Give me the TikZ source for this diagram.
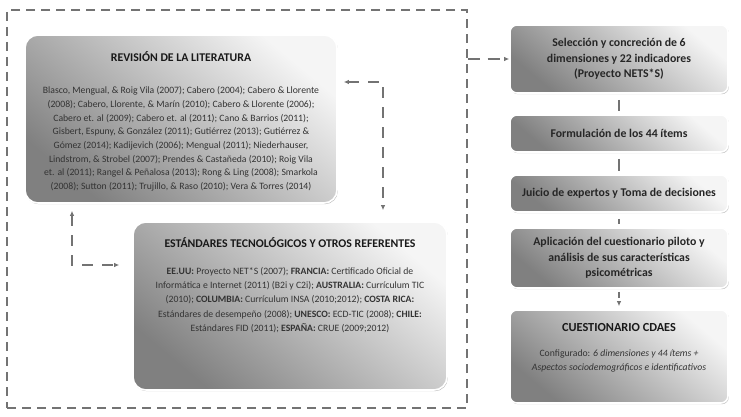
\documentclass[tikz,border=0pt]{standalone}
\usepackage{fontspec}
\setmainfont{Carlito}
\usetikzlibrary{arrows.meta,shadows}

\begin{document}
\begin{tikzpicture}[x=1pt, y=-1pt,
  >={Latex[length=5pt,width=4.5pt]},
  panel/.style={draw=white, line width=1.6pt, rounded corners=13pt,
    top color=black!4, bottom color=black!50, shading angle=-40,
    drop shadow={shadow xshift=0.8pt, shadow yshift=-1.2pt, fill=black!45, opacity=0.55}},
  stepbox/.style={panel, rounded corners=7pt, minimum width=218pt,
    align=center, text=black!85, font=\fontsize{11.8}{15.5}\selectfont\bfseries},
  headtext/.style={align=center, text=black!90, font=\fontsize{11.8}{13}\selectfont\bfseries},
  bodytext/.style={align=center, text=black!80, font=\fontsize{9.7}{13.7}\selectfont},
  dashframe/.style={draw=black!55, line width=1.4pt, dash pattern=on 9pt off 6pt},
  linkarrow/.style={draw=black!55, line width=1.5pt, dash pattern=on 11pt off 9pt},
  stepline/.style={draw=black!55, line width=1.4pt}
]
\useasboundingbox (0,0) rectangle (741,417);
\node[dashframe, minimum width=460pt, minimum height=398pt] (frame) at (237,209) {};
\node[panel, minimum width=312pt, minimum height=168pt] (rev) at (181,119) {};
\node[panel, minimum width=314pt, minimum height=168pt] (est) at (290,306) {};
\node[headtext] (revtitle) at (181,57) {REVISIÓN DE LA LITERATURA};
\node[bodytext] (revrefs) at (181,139) {Blasco, Mengual, \& Roig Vila (2007); Cabero (2004); Cabero \& Llorente\\
(2008); Cabero, Llorente, \& Marín (2010); Cabero \& Llorente (2006);\\
Cabero et. al (2009); Cabero et. al (2011); Cano \& Barrios (2011);\\
Gisbert, Espuny, \& González (2011); Gutiérrez (2013); Gutiérrez \&\\
Gómez (2014); Kadijevich (2006); Mengual (2011); Niederhauser,\\
Lindstrom, \& Strobel (2007); Prendes \& Castañeda (2010); Roig Vila\\
et. al (2011); Rangel \& Peñalosa (2013); Rong \& Ling (2008); Smarkola\\
(2008); Sutton (2011); Trujillo, \& Raso (2010); Vera \& Torres (2014)};
\node[headtext] (esttitle) at (290,243) {ESTÁNDARES TECNOLÓGICOS Y OTROS REFERENTES};
\node[bodytext, font=\fontsize{9.7}{14.3}\selectfont] (estrefs) at (290,300) {\textbf{EE.UU:} Proyecto NET*S (2007); \textbf{FRANCIA:} Certificado Oficial de\\
Informática e Internet (2011) (B2i y C2i); \textbf{AUSTRALIA:} Currículum TIC\\
(2010); \textbf{COLUMBIA:} Currículum INSA (2010;2012); \textbf{COSTA RICA:}\\
Estándares de desempeño (2008); \textbf{UNESCO:} ECD-TIC (2008); \textbf{CHILE:}\\
Estándares FID (2011); \textbf{ESPAÑA:} CRUE (2009;2012)};
\node[stepbox, minimum height=68pt] (sel) at (619,59) {Selección y concreción de 6\\dimensiones y 22 indicadores\\(Proyecto NETS*S)};
\node[stepbox, minimum height=37pt] (form) at (619,133.5) {Formulación de los 44 ítems};
\node[stepbox, minimum height=37pt] (juicio) at (619,193.5) {Juicio de expertos y Toma de decisiones};
\node[stepbox, minimum height=60pt] (aplic) at (619,258) {Aplicación del cuestionario piloto y\\análisis de sus características\\psicométricas};
\node[stepbox, minimum height=93pt] (cuest) at (619,356.5) {};
\node[headtext, font=\fontsize{12.3}{13}\selectfont\bfseries] (cuesttitle) at (619,328) {CUESTIONARIO CDAES};
\node[bodytext, font=\fontsize{9.7}{14}\selectfont] (cuestitems) at (619,361) {Configurado: \textit{6 dimensiones y 44 ítems +}\\\textit{Aspectos sociodemográficos e identificativos}};
\draw[linkarrow, <->, shorten <=6pt, shorten >=11pt] ([yshift=37pt]rev.east) -| ([xshift=93pt]est.north);
\draw[linkarrow, <->, shorten <=7pt, shorten >=13pt] ([xshift=-109pt]rev.south) |- ([yshift=41pt]est.west);
\draw[linkarrow, ->, dash pattern=on 12pt off 8pt] (frame.east |- sel.west) -- (sel.west);
\draw[stepline, shorten <=6pt, shorten >=3pt] (sel.south) -- (form.north);
\draw[stepline, shorten <=6pt, shorten >=3pt] (form.south) -- (juicio.north);
\draw[stepline, shorten <=6pt, shorten >=3pt] (juicio.south) -- (aplic.north);
\draw[stepline, ->, dash pattern=on 6pt off 4pt, shorten <=3pt, shorten >=3pt] (aplic.south) -- (cuest.north);
\end{tikzpicture}
\end{document}
